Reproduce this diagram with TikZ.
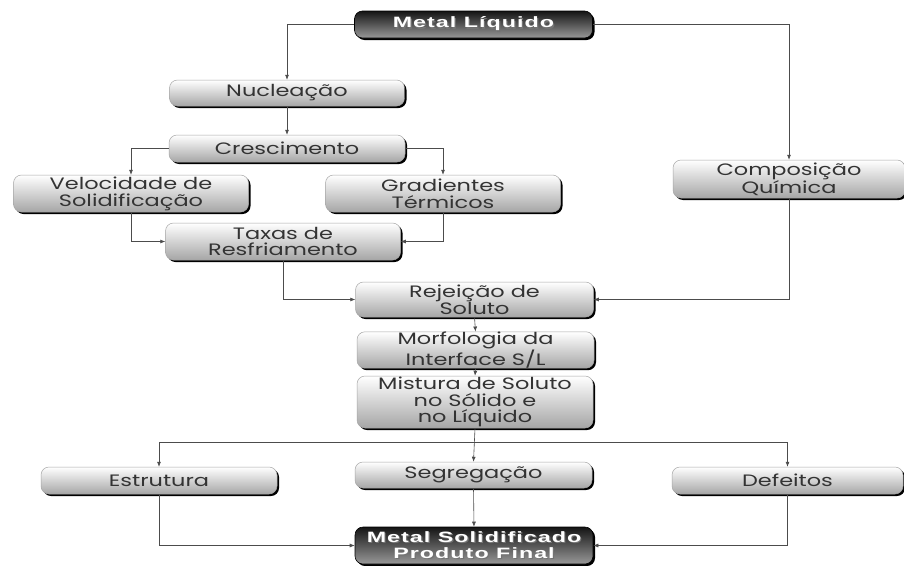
\documentclass[tikz,border=0pt]{standalone}
\usepackage{fontspec}
\setmainfont{Poppins}[FakeStretch=1.36]
\newfontfamily\boldfont{Liberation Sans}[FakeStretch=1.55,LetterSpace=7]
\usetikzlibrary{arrows.meta}
\newcommand\shtxt[1]{\rlap{\textcolor{black!55}{\raisebox{-1.2pt}{\kern1.2pt #1}}}#1}
\tikzset{
  lightbox/.style={rectangle, rounded corners=8pt, minimum width=236pt, inner sep=0pt,
    draw=black!35, line width=0.5pt, top color=white, bottom color=black!35,
    preaction={fill=black, transform canvas={shift={(2pt,-2pt)}}},
    align=center, font=\fontsize{16.5}{16.8}\selectfont, text=black!80},
  darkbox/.style={rectangle, rounded corners=8pt, minimum width=238pt, inner sep=0pt,
    draw=black, line width=0.6pt, top color=black!92, bottom color=black!40,
    preaction={fill=black, transform canvas={shift={(2pt,-2pt)}}},
    align=center, font=\boldfont\bfseries\fontsize{15}{15.5}\selectfont, text=white},
  arr/.style={draw=black!70, line width=0.6pt, -{Latex[length=5pt,width=4pt]}},
  ln/.style={draw=black!70, line width=0.6pt}
}
\begin{document}
\begin{tikzpicture}[x=1pt,y=-1pt]
\useasboundingbox[fill=white] (0,0) rectangle (904,565);
% nodes
\node[darkbox, minimum height=27pt] (ML) at (473.5,24.5) {\shtxt{Metal Líquido}};
\node[lightbox, minimum height=26pt, minimum width=235pt] (Nuc) at (287,93) {Nucleação};
\node[lightbox, minimum height=27pt] (Cres) at (287,148.5) {Crescimento};
\node[lightbox, minimum height=37pt, minimum width=235pt] (Vel) at (131,193.5) {Velocidade de\\Solidificação};
\node[lightbox, minimum height=37pt, minimum width=235pt] (Grad) at (443,193.5) {Gradientes\\Térmicos};
\node[lightbox, minimum height=37pt, minimum width=235pt] (Tax) at (283,241.5) {Taxas de\\Resfriamento};
\node[lightbox, minimum height=38pt, minimum width=232pt] (Comp) at (789,179) {Composição\\Química};
\node[lightbox, minimum height=35pt, minimum width=238pt] (Rej) at (474.5,299.5) {Rejeição de\\Soluto};
\node[lightbox, minimum height=36pt, minimum width=237pt] (Morf) at (475.5,350) {Morfologia da\\Interface S/L};
\node[lightbox, minimum height=52pt, minimum width=236pt] (Mist) at (475,402) {Mistura de Soluto\\no Sólido e\\no Líquido};
\node[lightbox, minimum height=27pt] (Estr) at (159,480.5) {Estrutura};
\node[lightbox, minimum height=26pt, minimum width=237pt] (Seg) at (473.5,475) {Segregação};
\node[lightbox, minimum height=27pt, minimum width=231pt] (Def) at (787.5,480.5) {Defeitos};
\node[darkbox, minimum height=37pt] (MS) at (474,545.5) {\shtxt{Metal Solidificado}\\\shtxt{Produto Final}};
% connectors
\draw[arr] (ML.west) -| (Nuc.north);
\draw[arr] (ML.east) -| (Comp.north);
\draw[arr] (Nuc.south) -- (Cres.north);
\draw[arr] (Cres.west) -| (Vel.north);
\draw[arr] (Cres.east) -| (Grad.north);
\draw[arr] (Vel.south) |- (Tax.west);
\draw[arr] (Grad.south) |- (Tax.east);
\draw[arr] (Tax.south) |- (Rej.west);
\draw[arr] (Comp.south) |- (Rej.east);
\draw[arr] (Rej.south) -- (Morf.north);
\draw[arr] (Morf.south) -- (Mist.north);
\coordinate (split) at (475,442);
\draw[arr] (Mist.south) -- (Seg.north);
\draw[arr] (split) -| (Estr.north);
\draw[arr] (split) -| (Def.north);
\draw[arr] (Seg.south) -- (MS.north);
\draw[arr] (Estr.south) |- (MS.west);
\draw[arr] (Def.south) |- (MS.east);
\end{tikzpicture}
\end{document}
